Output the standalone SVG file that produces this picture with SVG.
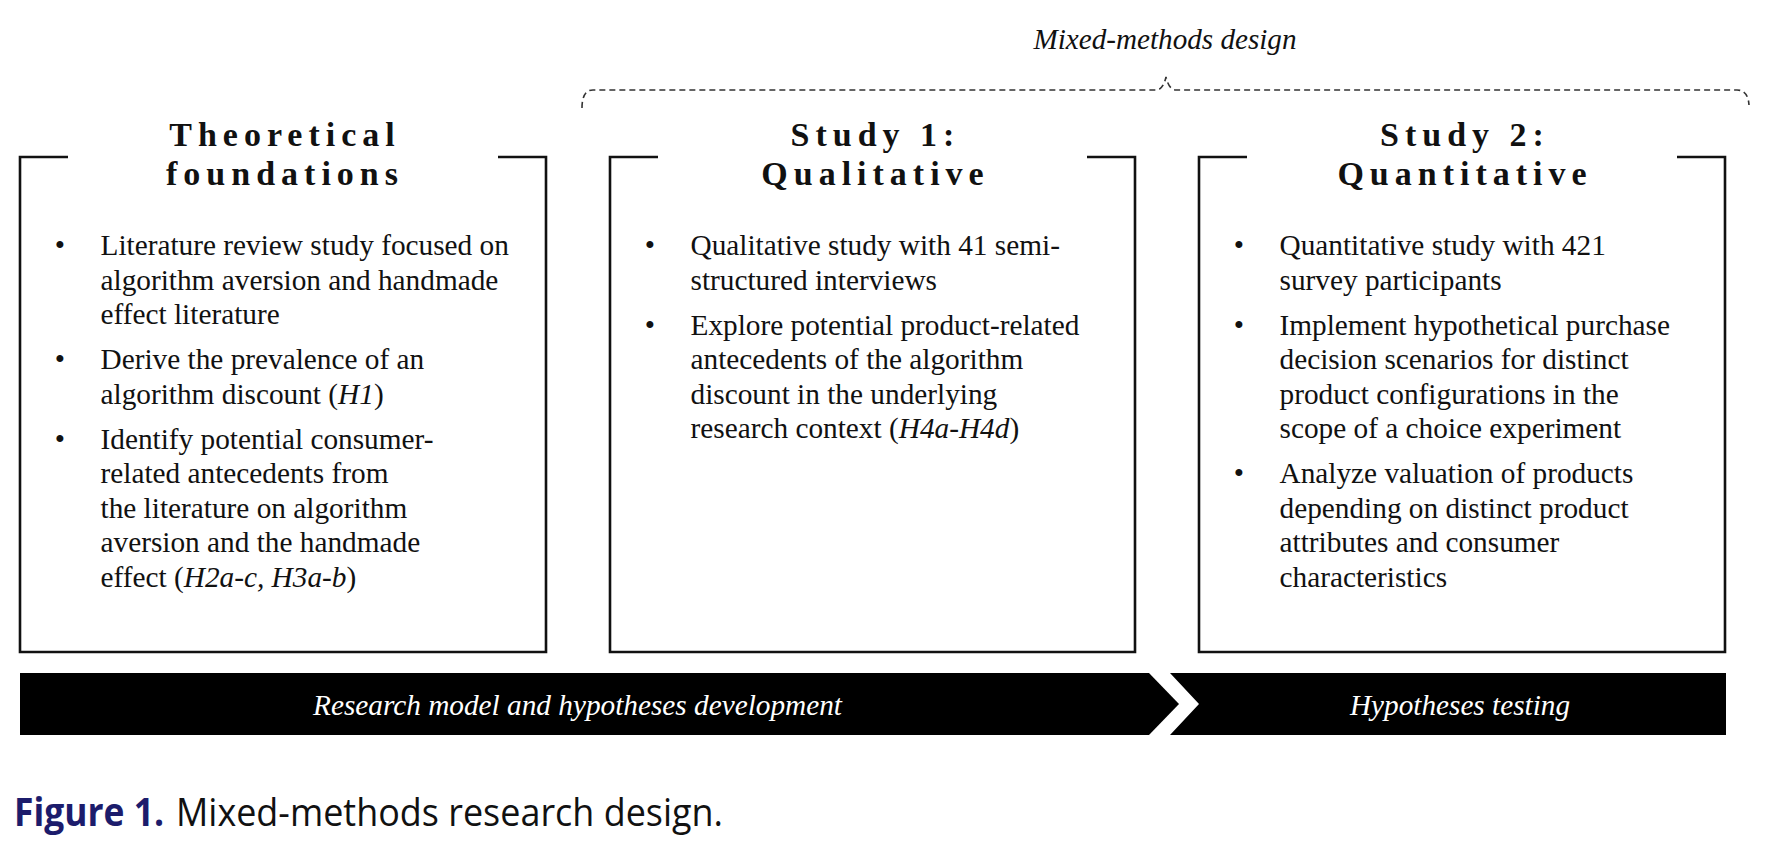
<svg xmlns="http://www.w3.org/2000/svg" width="1772" height="868" viewBox="0 0 1772 868">
<style>
.box{fill:none;stroke:#111;stroke-width:2.6}
.head{font-family:"Liberation Serif","Times New Roman",serif;font-weight:bold;font-size:34px;letter-spacing:6px;fill:#111;text-anchor:middle}
.body{font-family:"Liberation Serif","Times New Roman",serif;font-size:29.3px;fill:#111}
.bul{font-family:"Liberation Serif","Times New Roman",serif;font-size:29.3px;fill:#111;text-anchor:middle}
.it{font-style:italic}
.bar{fill:#000}
.bartxt{font-family:"Liberation Serif","Times New Roman",serif;font-style:italic;font-size:29px;fill:#fff;text-anchor:middle}
.brace{fill:none;stroke:#333;stroke-width:1.6;stroke-dasharray:6 4}
.cap{font-family:"Open Sans","Noto Sans",sans-serif;font-size:39px}
</style>
<rect width="1772" height="868" fill="#fff"/>

<g id="mixed-methods">
<text x="1165" y="49" class="bartxt" style="fill:#111" textLength="263" lengthAdjust="spacingAndGlyphs">Mixed-methods design</text>
</g>

<g id="connectors">
<path class="brace" d="M582,108 Q582,90 593,90 H1156 Q1163,90 1166,77 Q1169,90 1176,90 H1737 Q1748,90 1749,105"/>
</g>

<g id="theoretical-foundations">
<path class="box" d="M68,157 H20 V652 H546 V157 H498"/>
<text class="head" x="285" y="146">Theoretical</text>
<text class="head" x="285" y="185">foundations</text>
<text class="bul" x="60" y="255">•</text>
<text class="body" x="100.5" y="255">Literature review study focused on</text>
<text class="body" x="100.5" y="289.5">algorithm aversion and handmade</text>
<text class="body" x="100.5" y="324">effect literature</text>
<text class="bul" x="60" y="369">•</text>
<text class="body" x="100.5" y="369">Derive the prevalence of an</text>
<text class="body" x="100.5" y="403.5">algorithm discount (<tspan class="it">H1</tspan>)</text>
<text class="bul" x="60" y="448.5">•</text>
<text class="body" x="100.5" y="448.5">Identify potential consumer-</text>
<text class="body" x="100.5" y="483">related antecedents from</text>
<text class="body" x="100.5" y="517.5">the literature on algorithm</text>
<text class="body" x="100.5" y="552">aversion and the handmade</text>
<text class="body" x="100.5" y="586.5">effect (<tspan class="it">H2a-c, H3a-b</tspan>)</text>
</g>

<g id="study-1">
<path class="box" d="M658,157 H610 V652 H1135 V157 H1087"/>
<text class="head" x="875.5" y="146">Study 1:</text>
<text class="head" x="875.5" y="185">Qualitative</text>
<text class="bul" x="650" y="255">•</text>
<text class="body" x="690.5" y="255">Qualitative study with 41 semi-</text>
<text class="body" x="690.5" y="289.5">structured interviews</text>
<text class="bul" x="650" y="334.5">•</text>
<text class="body" x="690.5" y="334.5">Explore potential product-related</text>
<text class="body" x="690.5" y="369">antecedents of the algorithm</text>
<text class="body" x="690.5" y="403.5">discount in the underlying</text>
<text class="body" x="690.5" y="438">research context (<tspan class="it">H4a-H4d</tspan>)</text>
</g>

<g id="study-2">
<path class="box" d="M1247,157 H1199 V652 H1725 V157 H1677"/>
<text class="head" x="1465" y="146">Study 2:</text>
<text class="head" x="1465" y="185">Quantitative</text>
<text class="bul" x="1239" y="255">•</text>
<text class="body" x="1279.5" y="255">Quantitative study with 421</text>
<text class="body" x="1279.5" y="289.5">survey participants</text>
<text class="bul" x="1239" y="334.5">•</text>
<text class="body" x="1279.5" y="334.5">Implement hypothetical purchase</text>
<text class="body" x="1279.5" y="369">decision scenarios for distinct</text>
<text class="body" x="1279.5" y="403.5">product configurations in the</text>
<text class="body" x="1279.5" y="438">scope of a choice experiment</text>
<text class="bul" x="1239" y="483">•</text>
<text class="body" x="1279.5" y="483">Analyze valuation of products</text>
<text class="body" x="1279.5" y="517.5">depending on distinct product</text>
<text class="body" x="1279.5" y="552">attributes and consumer</text>
<text class="body" x="1279.5" y="586.5">characteristics</text>
</g>

<g id="phase-development">
<polygon class="bar" points="20,673 1149,673 1179,704 1149,735 20,735"/>
<text class="bartxt" x="577.5" y="715" textLength="529" lengthAdjust="spacingAndGlyphs">Research model and hypotheses development</text>
</g>

<g id="phase-testing">
<polygon class="bar" points="1170,673 1726,673 1726,735 1170,735 1199,704"/>
<text class="bartxt" x="1460" y="715" textLength="220" lengthAdjust="spacingAndGlyphs">Hypotheses testing</text>
</g>

<g id="caption">
<text class="cap" x="14" y="826" style="font-weight:bold;fill:#1c1c6c" textLength="150" lengthAdjust="spacingAndGlyphs">Figure 1.</text>
<text class="cap" x="176" y="826" style="fill:#111" textLength="547" lengthAdjust="spacingAndGlyphs">Mixed-methods research design.</text>
</g>
</svg>
